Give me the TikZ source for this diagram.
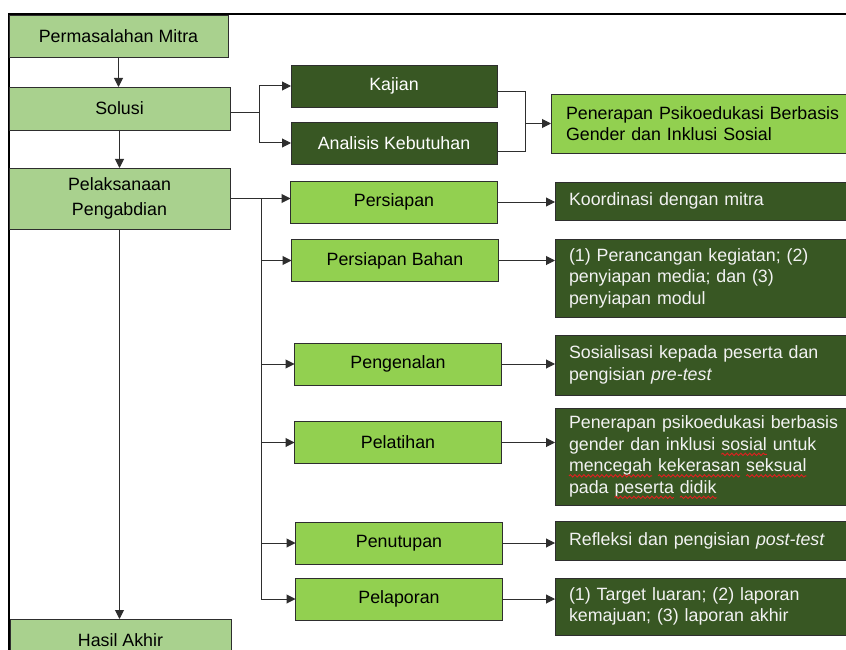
\documentclass[tikz,border=0pt]{standalone}
\usepackage{fontspec}
\setmainfont{Liberation Sans}
\usetikzlibrary{arrows.meta,decorations.pathmorphing}
\definecolor{lgreen}{HTML}{A9D18E}
\definecolor{mgreen}{HTML}{92D050}
\definecolor{dgreen}{HTML}{385723}
\definecolor{edgecol}{HTML}{2E2E2E}
\definecolor{wavered}{HTML}{E02020}
\newcommand\sqw[1]{\tikz[baseline=(w.base)]{\node[draw=none,fill=none,inner sep=0pt,outer sep=0pt,minimum width=0pt,minimum height=0pt,text width={},anchor=base] (w) {#1};\draw[overlay,wavered,line width=0.9pt,decorate,decoration={snake,amplitude=1.2pt,segment length=4.5pt}] ([yshift=-4pt]w.base west) -- ([yshift=-4pt]w.base east);}}
\begin{document}
\begin{tikzpicture}[x=1pt,y=-1pt, font=\fontsize{17.8}{21.5}\selectfont,
 box/.style={draw=edgecol, line width=0.9pt, inner sep=0pt, outer sep=0pt},
 lbox/.style={box, fill=lgreen, text=black, align=center, minimum width=221pt, minimum height=42pt},
 mbox/.style={box, fill=mgreen, text=black, align=center, minimum width=207pt, minimum height=42pt},
 kbox/.style={box, fill=dgreen, text=white, align=center, minimum width=206pt, minimum height=42pt},
 rbox/.style={box, fill=dgreen, text=white!95!black, align=left, inner xsep=14pt, text width=272pt, anchor=west},
 conn/.style={draw=edgecol, line width=1pt},
 arr/.style={conn, -{Triangle[length=9pt,width=9pt]}}]
\useasboundingbox (0,0) rectangle (846,650);
\clip (0,0) rectangle (846,650);
% frame
\draw[line width=2pt] (846,14) -- (8,14);
\draw[line width=1.6pt] (9,13) -- (9,650);
% left column
\node[lbox, minimum width=219pt] (pm) at (118.5,36) {Permasalahan Mitra};
\node[lbox, minimum height=43pt] (sol) at (119.5,108.5) {Solusi};
\node[lbox, minimum height=61pt] (pel) at (119.5,198.5) {Pelaksanaan\\[3.5pt]Pengabdian};
\node[lbox] (has) at (120.5,640) {Hasil Akhir};
% solusi branch
\node[kbox] (kaj) at (394,86) {Kajian};
\node[kbox] (ana) at (394,143) {Analisis Kebutuhan};
\node[box, fill=mgreen, text=black, align=left, anchor=west, inner xsep=15pt, text width=279pt, minimum height=59pt] (pen) at (551,123.5) {Penerapan Psikoedukasi Berbasis\\Gender dan Inklusi Sosial};
% middle column
\node[mbox] (per) at (394,202) {Persiapan};
\node[mbox] (pb) at (395,260.5) {Persiapan Bahan};
\node[mbox] (pg) at (398,364) {Pengenalan};
\node[mbox] (plt) at (398,442.5) {Pelatihan};
\node[mbox] (pn) at (399,543) {Penutupan};
\node[mbox] (pl) at (399,599) {Pelaporan};
% right column
\node[rbox, minimum height=38pt] (kor) at (555,201) {Koordinasi dengan mitra};
\node[rbox, minimum height=78pt] (pr) at (555,278) {(1) Perancangan kegiatan; (2)\\penyiapan media; dan (3)\\penyiapan modul};
\node[rbox, minimum height=60pt] (sos) at (555,365) {Sosialisasi kepada peserta dan\\pengisian \textit{pre-test}};
\node[rbox, minimum height=97pt] (pp) at (555,456.5) {Penerapan psikoedukasi berbasis\\gender dan inklusi \sqw{sosial} untuk\\\sqw{mencegah} \sqw{kekerasan} \sqw{seksual}\\pada \sqw{peserta} \sqw{didik}};
\node[rbox, minimum height=39pt] (ref) at (555,541) {Refleksi dan pengisian \textit{post-test}};
\node[rbox, minimum height=57pt] (tar) at (555,606.5) {(1) Target luaran; (2) laporan\\kemajuan; (3) laporan akhir};
% vertical flow
\draw[arr] (pm.south) -- (pm.south |- sol.north);
\draw[arr] (sol.south) -- (sol.south |- pel.north);
\draw[arr] (pel.south) -- (pel.south |- has.north);
% solusi split
\coordinate (sb) at (259,113);
\draw[conn] ([yshift=-4.5pt]sol.east) -- (sb);
\draw[arr] (sb) |- (kaj.west);
\draw[arr] (sb) |- (ana.west);
\coordinate (mj) at (525,123.5);
\draw[conn] ([yshift=-6pt]kaj.east) -| (mj);
\draw[conn] ([yshift=-9pt]ana.east) -| (mj);
\draw[arr] (mj) -- (pen.west);
% bus
\coordinate (bus) at (261,0);
\draw[arr] (pel.east) -- (pel.east -| per.west);
\draw[conn] (pel.east -| bus) -- (pl.west -| bus);
\foreach \n in {pb,pg,plt,pn,pl} \draw[arr] (\n.west -| bus) -- (\n.west);
% to right boxes
\draw[arr] (per.east) -- (per.east -| kor.west);
\draw[arr] (pb.east) -- (pb.east -| pr.west);
\draw[arr] (pg.east) -- (pg.east -| sos.west);
\draw[arr] (plt.east) -- (plt.east -| pp.west);
\draw[arr] (pn.east) -- (pn.east -| ref.west);
\draw[arr] (pl.east) -- (pl.east -| tar.west);
\end{tikzpicture}
\end{document}
